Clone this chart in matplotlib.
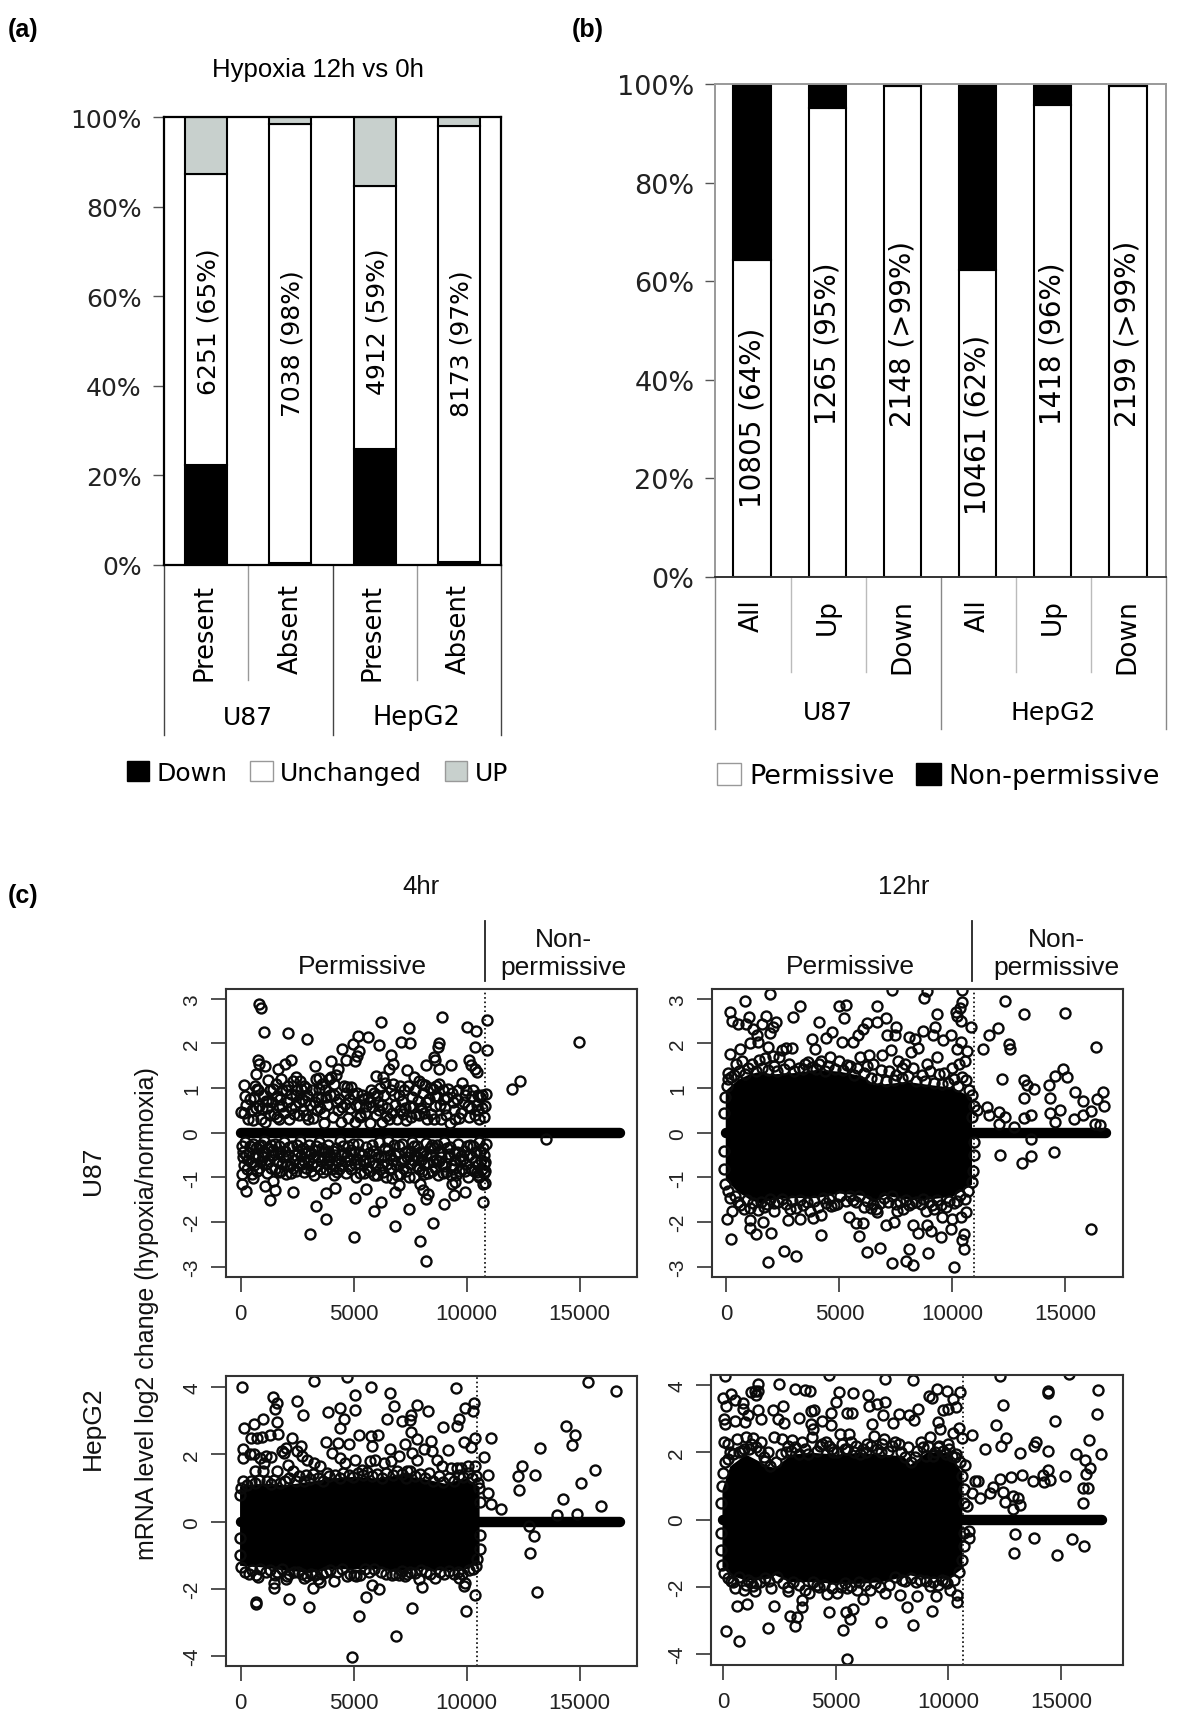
import matplotlib
matplotlib.use("Agg")
import matplotlib.pyplot as plt
from matplotlib.patches import Patch
import numpy as np

# panel a
a_cats = ["Present", "Absent", "Present", "Absent"]
a_down = [22.2, 0.4, 25.8, 0.5]
a_unch = [65.1, 98.0, 58.7, 97.5]
a_up = [12.7, 1.6, 15.5, 2.0]
a_text = ["6251 (65%)", "7038 (98%)", "4912 (59%)", "8173 (97%)"]
a_text_y = [54.5, 49.5, 54.5, 49.5]

# panel b
b_cats = ["All", "Up", "Down", "All", "Up", "Down"]
b_perm = [64.3, 95.1, 99.6, 62.2, 95.8, 99.6]
b_non = [35.7, 4.9, 0.4, 37.8, 4.2, 0.4]
b_text = ["10805 (64%)", "1265 (95%)", "2148 (>99%)", "10461 (62%)", "1418 (96%)", "2199 (>99%)"]
b_text_y = [32.4, 47.5, 49.5, 31, 47.5, 49.5]

# panel c, cut points between permissive / non permissive
cut_u87_4 = 10805
cut_u87_12 = 10950
cut_hep_4 = 10461
cut_hep_12 = 10650

u87_4h = [(830,2.89),(880,2.79),(1030,2.25),(2100,2.23),(2935,2.11),(6220,2.49),(7460,2.34),(7080,2.03),(7510,2.02),(8920,2.6),
(10030,2.36),(10410,2.28),(10900,2.52),(10900,1.86),(10350,1.93),(14975,2.03),(12020,0.99),(12340,1.15),(13515,-0.13),
(5190,2.16),(4975,1.99),(5640,2.14),(6100,1.96),(4480,1.88),(5220,1.84),(5140,1.73),(4640,1.62),(5060,1.6),(3980,1.61),
(2240,1.62),(1940,1.54),(750,1.62),(830,1.54),(1080,1.5),(660,1.32),(1660,1.43),(3280,1.49),(4310,1.43),(6630,1.75),
(6720,1.54),(6550,1.43),(7380,1.4),(5970,1.27),(6300,1.25),(8790,2.0),(8710,1.91),(8540,1.69),(8620,1.62),(8210,1.52),
(8790,1.43),(9290,1.52),(10120,1.62),(10200,1.51),(10370,1.43),(10450,1.36),
(130,1.07),(30,0.46),(150,0.44),(320,0.3),(480,0.5),(590,0.8),(640,1.05),(710,0.97),(830,0.6),(900,0.32),(1000,0.85),
(1080,0.25),(1170,0.55),(1230,1.18),(1310,0.95),(1400,0.7),(1480,0.42),(1550,1.1),(1620,0.82),(1700,0.6),(1710,0.3),
(1790,1.2),(1850,0.95),(1920,0.45),(2030,0.7),(2090,1.05),(2150,0.3),(2240,0.88),(2320,1.15),(2390,0.6),(2450,1.25),
(2510,0.95),(2590,0.4),(2640,1.17),(2720,0.75),(2800,1.05),(2880,0.4),(2950,0.85),(3060,0.62),(3150,0.95),(3220,0.34),
(3340,1.2),(3400,0.8),(3470,1.22),(3530,0.55),(3610,1.1),(3680,0.22),(3750,0.95),(3840,0.62),(3900,1.2),(4010,1.25),
(4070,0.35),(4150,0.85),(4220,1.3),(4290,0.52),(4370,0.75),(4450,0.25),(4550,1.05),(4620,0.65),(4700,1.03),(4770,0.33),
(4840,0.55),(4950,0.88),(5050,0.25),(5150,0.9),(5220,0.6),(5300,0.35),(5420,0.75),(5510,0.45),(5620,0.8),(5710,0.22),
(5800,0.58),(5890,0.9),(5980,0.4),(6080,0.7),(6170,1.0),(6240,0.25),(6320,0.85),(6400,1.12),(6480,0.55),(6570,0.32),
(6650,0.95),(6740,1.1),(6820,0.62),(6900,0.3),(6990,0.85),(7070,0.5),(7150,0.72),(7230,0.95),(7310,0.28),(7420,1.05),
(7500,0.6),(7590,0.8),(7680,1.25),(7760,0.42),(7830,0.72),(7910,1.15),(7990,0.55),(8070,0.9),(8150,1.07),(8240,0.3),
(8320,0.75),(8410,0.42),(8500,0.98),(8590,0.6),(8690,0.82),(8770,1.1),(8870,0.3),(8950,0.95),(9060,0.55),(9130,0.8),
(9260,0.22),(9340,0.9),(9460,0.5),(9550,0.75),(9670,0.33),(9810,1.12),(9870,0.68),(9980,0.95),(10090,0.35),(10240,0.82),
(10370,0.4),(10440,0.62),(10530,0.3),(10610,0.8),(10690,0.85),(10780,0.35),(10850,0.88),
(60,-0.92),(60,-1.15),(220,-1.3),(530,-1.02),(1070,-1.18),(1280,-1.5),(1450,-1.07),(1530,-1.27),(2300,-1.32),(3320,-1.63),
(3760,-1.34),(4180,-1.24),(5050,-1.45),(5550,-1.26),(5890,-1.75),(6210,-1.55),(6830,-1.33),(7000,-1.17),(7450,-1.7),
(7920,-1.15),(8080,-1.27),(8220,-1.48),(8290,-1.36),(8980,-1.6),(9350,-1.15),(9420,-1.4),(9500,-1.1),(9940,-1.32),
(10550,-1.0),(10720,-1.15),(10800,-1.12),(10740,-1.54),(10760,-0.9),
(3080,-2.27),(3760,-1.93),(5000,-2.33),(6820,-2.08),(7950,-2.43),(8210,-2.88),(8530,-2.02),
(40,-0.3),(100,-0.55),(190,-0.2),(270,-0.8),(370,-0.45),(450,-0.65),(540,-0.25),(620,-0.55),(720,-0.85),(800,-0.3),
(880,-0.62),(950,-0.42),(1040,-0.18),(1130,-0.7),(1220,-0.35),(1340,-0.78),(1420,-0.5),(1500,-0.25),(1590,-0.62),(1680,-0.88),
(1750,-0.42),(1830,-0.7),(1930,-0.2),(2000,-0.92),(2080,-0.5),(2170,-0.75),(2270,-0.3),(2350,-0.6),(2440,-0.85),(2520,-0.4),
(2610,-0.18),(2700,-0.7),(2780,-0.88),(2860,-0.45),(2960,-0.6),(3040,-0.27),(3130,-0.85),(3200,-0.55),(3300,-0.38),(3370,-0.75),
(3460,-0.2),(3540,-0.62),(3650,-0.88),(3720,-0.42),(3810,-0.7),(3880,-0.28),(3970,-0.55),(4060,-0.82),(4130,-0.95),(4230,-0.35),
(4310,-0.62),(4400,-0.18),(4490,-0.75),(4570,-0.45),(4660,-0.9),(4730,-0.3),(4830,-0.6),(4900,-0.82),(5010,-0.42),(5090,-0.98),
(5180,-0.25),(5270,-0.7),(5350,-0.5),(5460,-0.9),(5540,-0.32),(5660,-0.62),(5740,-0.85),(5840,-0.4),(5930,-0.72),(6010,-0.95),
(6110,-0.2),(6190,-0.55),(6290,-0.88),(6370,-0.35),(6460,-0.7),(6540,-0.18),(6620,-0.5),(6710,-1.02),(6790,-0.28),(6870,-0.72),
(6960,-0.45),(7040,-0.92),(7130,-0.25),(7210,-0.6),(7300,-0.85),(7390,-0.4),(7480,-0.7),(7560,-0.2),(7650,-0.98),(7730,-0.52),
(7810,-0.3),(7900,-0.82),(7970,-0.6),(8060,-0.42),(8130,-0.92),(8220,-0.22),(8310,-0.68),(8400,-0.5),(8480,-0.85),(8570,-0.33),
(8650,-0.6),(8740,-0.95),(8830,-0.42),(8920,-0.7),(8990,-0.2),(9090,-0.88),(9170,-0.55),(9280,-0.32),(9370,-0.72),(9450,-0.45),
(9540,-0.95),(9630,-0.25),(9720,-0.62),(9800,-0.8),(9900,-0.4),(9990,-0.7),(10060,-0.98),(10150,-0.28),(10230,-0.55),(10320,-0.85),
(10400,-0.42),(10480,-0.72),(10560,-0.2),(10640,-0.6),(10700,-0.35),(10780,-0.5),(10830,-0.85),(10860,-0.25),
# second pass over the crowded bands
(250,0.62),(420,0.75),(560,0.28),(770,0.95),(960,0.55),(1130,0.72),(1290,0.4),(1440,0.98),(1590,0.35),(1760,0.75),(1990,0.95),(2210,0.55),
(2430,0.85),(2560,0.7),(2680,0.98),(2760,0.5),(2900,1.0),(3000,0.3),(3270,0.7),(3460,0.98),(3570,0.78),(3700,0.45),(3950,0.85),(4120,1.1),
(4480,0.58),(4660,0.9),(4880,1.02),(5100,0.62),(5360,0.85),(5560,0.6),(5760,0.95),(6020,0.85),(6260,0.62),(6430,0.38),(6790,0.85),(7040,1.05),
(7270,0.55),(7540,0.35),(7720,0.95),(7890,0.4),(8030,1.1),(8190,0.68),(8360,1.0),(8540,0.3),(8640,1.05),(8840,0.62),(9010,0.75),(9190,0.98),
(9400,0.68),(9610,0.95),(9760,0.45),(9920,0.85),(10180,0.55),(10300,0.95),(10490,0.85),(10660,0.55),(10810,0.6),
(150,-0.72),(320,-0.6),(500,-0.92),(670,-0.35),(830,-0.78),(1000,-0.55),(1180,-0.9),(1360,-0.28),(1540,-0.8),(1710,-0.3),(1880,-0.55),(2050,-0.72),
(2220,-0.9),(2400,-0.5),(2570,-0.68),(2740,-0.35),(2910,-0.78),(3090,-0.45),(3250,-0.95),(3420,-0.55),(3590,-0.35),(3770,-0.8),(3930,-0.62),
(4100,-0.4),(4270,-0.88),(4440,-0.5),(4610,-0.62),(4780,-0.75),(4950,-0.25),(5130,-0.58),(5300,-0.9),(5500,-0.6),(5690,-0.45),(5880,-0.95),
(6060,-0.55),(6240,-0.72),(6420,-0.98),(6590,-0.82),(6750,-0.6),(6920,-0.95),(7090,-0.62),(7260,-0.42),(7430,-0.98),(7610,-0.6),(7780,-0.75),
(7940,-0.42),(8100,-0.7),(8280,-0.9),(8450,-0.28),(8620,-0.78),(8790,-0.62),(8960,-0.9),(9130,-0.35),(9320,-0.95),(9490,-0.6),(9680,-0.85),
(9850,-0.58),(10020,-0.3),(10190,-0.82),(10360,-0.62),(10520,-0.95),(10670,-0.8),(10800,-0.65),
# third pass, mostly the lower band which is nearly solid
(90,-0.42),(230,-0.5),(400,-0.3),(580,-0.72),(760,-0.52),(920,-0.28),(1090,-0.45),(1260,-0.62),(1450,-0.38),(1640,-0.45),(1800,-0.85),(1970,-0.4),
(2130,-0.32),(2310,-0.78),(2480,-0.28),(2650,-0.52),(2820,-0.62),(3000,-0.4),(3170,-0.7),(3340,-0.3),(3500,-0.8),(3680,-0.55),(3850,-0.4),
(4020,-0.7),(4190,-0.5),(4360,-0.8),(4530,-0.3),(4700,-0.52),(4870,-0.38),(5050,-0.7),(5220,-0.42),(5400,-0.62),(5600,-0.78),(5790,-0.28),
(5970,-0.48),(6150,-0.82),(6330,-0.52),(6500,-0.38),(6670,-0.78),(6840,-0.5),(7010,-0.3),(7170,-0.78),(7340,-0.55),(7520,-0.42),(7690,-0.3),
(7860,-0.55),(8020,-0.85),(8190,-0.5),(8360,-0.35),(8530,-0.62),(8700,-0.28),(8870,-0.55),(9040,-0.75),(9220,-0.48),(9410,-0.82),(9590,-0.42),
(9760,-0.52),(9940,-0.85),(10100,-0.5),(10270,-0.3),(10440,-0.88),(10600,-0.42),(10760,-0.7),
(200,0.82),(680,0.55),(1220,0.72),(1830,0.6),(2340,0.42),(2850,0.72),(3380,0.52),(3780,0.8),(4240,0.7),(4780,0.75),(5260,0.4),(5700,0.7),
(6120,0.52),(6700,0.45),(7180,0.42),(7640,0.58),(8120,0.45),(8580,0.82),(9100,0.4),(9500,0.3),(10040,0.6),(10500,0.5)]

u87_12h = [(150,2.7),(250,2.51),(810,2.96),(1910,3.11),(985,2.59),(515,2.44),(880,2.43),(1180,2.33),(1735,2.61),(1590,2.43),
(2200,2.48),(2060,2.37),(1910,2.24),(1350,2.18),(1030,2.01),(1400,2.03),(1840,1.92),(590,1.88),(150,1.77),(2940,2.6),
(3260,2.84),(4120,2.48),(4970,2.84),(5290,2.87),(5220,2.57),(3790,2.1),(3940,1.87),(4410,2.13),(4680,2.25),(5120,2.03),
(5590,2.03),(5810,2.18),(6030,2.33),(6210,2.46),(6680,2.83),(6660,2.49),(7060,2.58),(7500,2.37),(7090,2.18),(7470,2.18),
(7350,3.19),(8750,3.01),(8900,3.17),(9310,2.66),(9240,2.37),(8680,2.29),(9150,2.2),(8090,2.14),(8340,2.1),(9590,2.08),
(9930,2.18),(10370,2.03),(10440,3.19),(10410,2.93),(10340,2.79),(10150,2.7),(10220,2.61),(10370,2.5),(10840,2.37),(10660,1.84),
(10220,1.87),(11370,1.88),(11620,2.2),(12010,2.35),(12310,2.96),(13150,2.66),(14970,2.68),(16370,1.93),(12500,1.99),(12540,1.87),
(12210,1.21),(13190,1.19),(13310,1.06),(13600,0.97),(13160,0.79),(14260,1.08),(14560,1.28),(14880,1.43),(15070,1.24),(14310,0.79),
(15440,0.91),(15760,0.72),(16400,0.75),(16660,0.91),(16700,0.61),(16130,0.48),(15760,0.4),(15370,0.3),(14780,0.52),(14340,0.45),
(13460,0.4),(13160,0.34),(12310,0.35),(12060,0.46),(11540,0.57),(11620,0.4),(11100,0.5),(12060,0.2),(12720,0.13),(14560,0.24),
(16320,0.2),(16540,0.18),(12100,-0.49),(13060,-0.68),(13460,-0.53),(14490,-0.43),(13500,-0.13),(16120,-2.16),
(30,-1.93),(220,-2.37),(1030,-1.96),(1030,-2.14),(1320,-2.26),(1620,-2.0),(1990,-2.24),(2130,-1.74),(1840,-2.9),(2530,-2.64),
(3090,-2.75),(2720,-1.96),(3240,-1.93),(3820,-1.91),(4190,-2.28),(4190,-1.85),(4630,-1.63),(5440,-1.89),(5740,-2.01),(6030,-2.01),
(5850,-2.31),(6210,-2.66),(6790,-2.57),(6660,-1.78),(7060,-2.06),(7430,-2.0),(7310,-2.92),(7570,-1.74),(7940,-2.86),(8240,-2.95),
(8090,-2.6),(8240,-2.07),(8500,-2.24),(8940,-2.69),(8900,-2.07),(9040,-2.19),(9490,-2.34),(9560,-1.89),(9930,-2.15),(10070,-3.0),
(9970,-1.93),(10370,-1.89),(10510,-2.26),(10410,-2.41),(10510,-2.6),(10590,-1.78),(8820,-1.74),
(70,1.35),(420,1.55),(700,1.6),(1150,1.55),(1450,1.62),(1700,1.68),(2050,1.72),(2450,1.85),(2650,1.9),(2900,1.9),(2350,1.7),
(3200,1.45),(3600,1.58),(4200,1.6),(4600,1.7),(5000,1.6),(5450,1.5),(5900,1.7),(6300,1.75),(6500,1.55),(6900,1.75),(7300,1.85),
(7600,1.6),(7750,1.45),(7900,1.55),(8150,1.8),(8500,1.9),(8900,1.55),(9300,1.7),(9650,1.35),(10000,1.45),(10300,1.55),(10550,1.6),
(250,-1.75),(520,-1.55),(760,-1.7),(1200,-1.58),(1650,-1.65),(2300,-1.55),(2800,-1.7),(3400,-1.62),(3700,-1.75),(4400,-1.58),
(4900,-1.6),(5600,-1.5),(6100,-1.65),(6500,-1.6),(7800,-1.7),(8200,-1.58),(8600,-1.6),(9200,-1.7),(9700,-1.65),(10200,-1.52),
# lumps along the edge of the black block
(-100,0.45),(-60,0.8),(20,1.05),(60,1.2),(200,1.25),(340,1.3),(560,1.38),(820,1.32),(960,1.45),(1290,1.38),(1560,1.45),(1860,1.4),(2120,1.5),
(2250,1.38),(2560,1.42),(2780,1.55),(3000,1.38),(3380,1.42),(3460,1.55),(3800,1.48),(3970,1.42),(4120,1.55),(4350,1.38),(4500,1.5),(4800,1.42),
(5180,1.4),(5320,1.52),(5640,1.3),(5790,1.45),(6080,1.35),(6240,1.5),(6420,1.22),(6680,1.2),(6830,1.4),(7080,1.15),(7200,1.38),(7400,1.18),
(7520,1.3),(7780,1.22),(8020,1.28),(8250,1.45),(8400,1.15),(8650,1.3),(8800,1.15),(9000,1.38),(9200,1.12),(9420,1.32),(9560,1.1),(9820,1.12),
(10060,1.2),(10240,1.05),(10420,1.25),(10620,1.18),(10720,0.95),(10860,0.85),(10950,0.6),(10880,0.35),
(-100,-0.4),(-90,-0.8),(-40,-1.15),(80,-1.3),(180,-1.45),(380,-1.42),(620,-1.62),(900,-1.5),(1060,-1.68),(1380,-1.72),(1520,-1.55),(1780,-1.6),
(1950,-1.48),(2100,-1.58),(2450,-1.48),(2620,-1.6),(2920,-1.52),(3100,-1.68),(3280,-1.5),(3560,-1.55),(3880,-1.52),(4060,-1.65),(4280,-1.45),
(4550,-1.48),(4780,-1.62),(5040,-1.42),(5280,-1.52),(5460,-1.42),(5720,-1.55),(5880,-1.42),(6220,-1.52),(6380,-1.68),(6620,-1.7),(6780,-1.58),
(6960,-1.45),(7160,-1.55),(7340,-1.42),(7500,-1.6),(7680,-1.55),(7940,-1.5),(8060,-1.62),(8380,-1.55),(8720,-1.48),(8960,-1.55),(9090,-1.62),
(9320,-1.5),(9480,-1.62),(9840,-1.52),(10060,-1.58),(10360,-1.4),(10560,-1.48),(10700,-1.3),(10860,-1.1),(10930,-0.85),(10950,-0.5),(10940,-0.2)]

hep_4h = [(80,4.0),(3260,4.18),(4720,4.3),(5760,4.02),(6590,3.84),(5080,3.77),(9520,3.99),(15350,4.15),(16620,3.88),(1410,3.7),
(1620,3.53),(1520,3.35),(2500,3.6),(2760,3.19),(990,3.07),(580,2.9),(130,2.8),(1610,2.98),(3870,3.27),(4390,3.37),(5080,3.32),
(4590,3.07),(4390,2.79),(6800,3.45),(7780,3.47),(8310,3.28),(7550,3.19),(7480,3.03),(7120,3.0),(6490,3.05),(8940,2.81),(9640,3.05),
(9550,2.86),(9930,3.37),(10330,3.53),(10260,3.28),(460,2.48),(720,2.5),(960,2.52),(1300,2.58),(1640,2.62),(2270,2.5),(2650,2.26),
(3770,2.36),(4300,2.34),(4800,2.31),(5220,2.58),(5760,2.56),(6090,2.59),(5790,2.24),(7530,2.66),(7780,2.46),(7250,2.31),(6620,2.16),
(8410,2.41),(9190,2.14),(9900,2.36),(10180,2.23),(10380,2.5),(11090,2.5),(10760,1.93),(10350,1.66),(10930,1.39),(10480,1.16),
(10930,0.85),(11090,0.54),(11540,0.38),(13250,2.18),(12450,1.66),(12280,1.36),(13030,1.39),(12330,0.94),(14400,2.86),(14780,2.58),
(14650,2.29),(15680,1.54),(15070,1.16),(14270,0.67),(15940,0.47),(13990,0.2),(14900,0.24),(12960,-0.44),(12810,-0.93),(13110,-2.09),
(12750,-0.13),(660,-2.39),(700,-2.45),(2150,-2.29),(3010,-2.54),(3180,-1.97),(3510,-1.79),(4140,-1.77),(4720,-1.62),(5250,-2.82),
(5550,-2.24),(5830,-1.9),(6130,-2.0),(4930,-4.04),(6890,-3.39),(7580,-2.56),(8030,-1.94),(7910,-1.7),(9930,-1.82),(9900,-1.92),
(10360,-2.19),(9950,-2.67),(1490,-1.82),(1490,-1.97),(1990,-1.72),(745,-1.65),(2810,-1.67),(8610,-1.67),(9650,-1.67),(7280,-1.62),
(10430,-1.32),(120,2.15),(100,1.9),(400,2.0),(600,2.02),(850,1.9),(1100,1.95),(1350,1.92),(1050,1.75),(650,1.5),(1000,1.5),(1600,1.5),
(1850,2.1),(2000,2.2),(1900,2.05),(2100,1.7),(2500,2.1),(2700,1.95),(2950,1.85),(3250,1.75),(3500,1.65),(3800,1.45),(4050,2.05),
(4400,1.9),(4600,1.75),(5050,1.85),(5350,1.55),(5700,1.8),(5950,1.85),(6350,1.75),(6650,1.8),(7000,1.95),(7350,1.5),(7600,2.05),
(7800,1.85),(8100,2.15),(8450,2.1),(8700,1.85),(8900,1.65),(9300,1.6),(9550,1.6),(9750,1.6),(10050,1.65),(2300,1.5),(2900,1.4),
(350,-1.55),(1100,-1.5),(1500,-1.6),(2150,-1.55),(2550,-1.5),(3300,-1.6),(3600,-1.55),(5000,-1.6),(5300,-1.58),(6700,-1.58),(7000,-1.6),
(7500,-1.5),(8200,-1.5),(9000,-1.55),(9600,-1.5),(10100,-1.45),
# lumps along the edge of the black block
(-30,0.8),(20,1.0),(100,1.2),(280,1.1),(460,1.22),(620,1.15),(790,1.25),(1180,1.2),(1320,1.12),(1490,1.25),(1730,1.15),(1950,1.2),(2120,1.3),
(2450,1.22),(2600,1.35),(2790,1.2),(3050,1.28),(3200,1.42),(3420,1.3),(3650,1.22),(3900,1.35),(4180,1.4),(4380,1.3),(4530,1.45),(4780,1.38),
(4950,1.32),(5180,1.45),(5420,1.38),(5600,1.48),(5820,1.35),(6050,1.42),(6260,1.3),(6440,1.45),(6720,1.38),(6900,1.5),(7120,1.42),(7300,1.3),
(7480,1.5),(7700,1.35),(7920,1.42),(8150,1.3),(8330,1.45),(8520,1.22),(8780,1.35),(8970,1.18),(9200,1.3),(9420,1.2),(9640,1.4),(9850,1.32),
(10040,1.45),(10220,1.3),(10400,1.35),(10530,1.0),(10600,0.6),
(-40,-0.5),(-20,-1.0),(30,-1.35),(180,-1.5),(520,-1.45),(680,-1.6),(860,-1.42),(1280,-1.45),(1620,-1.5),(1850,-1.42),(2050,-1.62),(2350,-1.5),
(2700,-1.55),(2950,-1.62),(3120,-1.55),(3420,-1.7),(3760,-1.5),(3950,-1.45),(4250,-1.5),(4480,-1.42),(4820,-1.55),(5120,-1.62),(5480,-1.42),
(5680,-1.5),(5900,-1.42),(6200,-1.5),(6450,-1.55),(6850,-1.55),(7150,-1.48),(7380,-1.55),(7700,-1.52),(7980,-1.45),(8380,-1.55),(8800,-1.5),
(9200,-1.48),(9420,-1.55),(9780,-1.55),(10280,-1.42),(10450,-1.1),(10580,-0.8),(10610,-0.4)]

hep_12h = [(100,4.26),(4700,4.3),(7190,4.18),(8410,4.15),(12280,4.28),(15340,4.33),(16620,3.86),(14410,3.83),(14440,3.76),(1570,4.05),
(2470,4.03),(1400,3.83),(1540,3.84),(1250,3.8),(1470,3.72),(3210,3.88),(3650,3.86),(3850,3.82),(5150,3.81),(5760,3.76),(6430,3.71),
(6840,3.43),(7190,3.51),(6470,3.38),(5030,3.51),(340,3.73),(0,3.63),(510,3.56),(880,3.48),(120,3.38),(880,3.28),(1540,3.26),(2210,3.26),
(2680,3.38),(1100,3.11),(1690,2.99),(40,3.0),(540,2.93),(985,2.9),(70,2.84),(2430,3.0),(2720,2.86),(3350,3.01),(3900,3.23),(4040,3.25),
(4380,2.94),(4780,3.18),(4780,2.81),(5510,3.16),(5740,3.16),(3900,2.84),(4000,2.69),(7100,3.11),(7790,3.15),(8240,3.11),(8650,3.3),
(8460,2.97),(7540,2.87),(6620,2.84),(9160,3.68),(9290,3.63),(9490,3.88),(9930,3.83),(10510,3.8),(10220,3.6),(10320,3.36),(10000,3.28),
(9780,3.25),(9530,2.9),(9630,2.69),(10220,2.57),(10490,2.72),(10590,2.44),(11070,2.52),(11620,2.09),(12100,2.82),(12430,3.4),(12570,2.44),
(12350,2.19),(13160,1.99),(13820,2.19),(13900,2.32),(14410,2.04),(14740,2.94),(16590,3.13),(16250,2.36),(16760,1.94),(15660,1.96),
(16060,1.76),(16290,1.54),(16100,1.36),(15180,1.29),(14410,1.49),(14190,1.34),(14260,1.11),(14490,1.17),(13750,1.14),(13260,1.32),
(12790,1.26),(12280,1.21),(11180,1.16),(11320,1.16),(11990,0.97),(11840,0.8),(12430,0.82),(11030,0.78),(11400,0.65),(12500,0.52),
(12870,0.7),(13090,0.63),(13160,0.43),(12870,0.32),(10810,0.4),(10740,1.61),(15960,0.93),(16210,0.93),(15960,0.5),
(10910,-0.35),(10910,-0.55),(12940,-0.42),(13790,-0.55),(12910,-1.0),(14810,-1.07),(15490,-0.57),(16030,-0.78),
(120,-3.33),(690,-3.63),(630,-2.57),(1070,-2.52),(1990,-3.23),(2280,-2.57),(2130,-2.04),(2990,-2.86),(3280,-2.89),(3180,-3.16),(3500,-2.39),
(3500,-2.59),(4710,-2.76),(5470,-2.76),(5780,-2.67),(5620,-2.96),(5340,-3.28),(5490,-4.16),(6210,-2.36),(7030,-3.05),(8410,-3.13),(8160,-2.61),
(7870,-2.26),(8600,-2.27),(9260,-2.72),(9440,-2.29),(10370,-2.44),(10400,-2.26),(370,-1.84),(510,-2.04),(930,-2.09),(1400,-2.14),(1250,-1.85),
(1100,-1.8),(1480,-1.9),(2870,-2.14),(3820,-2.19),(4260,-2.01),(4630,-2.22),(5070,-2.19),(5510,-2.04),(5960,-2.09),(6540,-2.09),(7180,-2.19),
(8090,-1.82),(8570,-1.86),(9190,-1.99),(9850,-1.84),(10070,-2.09),(9700,-1.8),
(60,2.3),(220,2.25),(600,2.4),(1000,2.45),(1350,2.42),(1700,2.3),(2000,2.0),(2250,2.45),(2600,2.4),(3050,2.38),(3500,2.3),(3950,2.45),
(4400,2.25),(4700,2.2),(5200,2.55),(5600,2.55),(5800,2.0),(6400,2.25),(6700,2.5),(7150,2.4),(7500,2.2),(7800,2.25),(8200,2.15),(8800,2.3),
(9200,2.45),(9600,2.2),(10050,2.1),(300,2.0),(850,2.05),(1150,2.1),(1800,1.85),(3000,2.05),(4900,2.0),(5400,2.1),(6200,2.1),(7000,2.0),
(8500,1.85),(9000,1.9),(9400,2.0),(9900,1.95),(10300,1.85),
# lumps along the edge of the black block
(-80,0.5),(-60,1.0),(-20,1.4),(80,1.7),(230,1.8),(460,1.95),(710,2.0),(930,2.1),(1220,2.25),(1460,2.15),(1640,2.05),(1880,1.75),(2080,1.6),
(2340,1.7),(2560,1.95),(2780,2.0),(2900,2.2),(3180,2.15),(3380,1.95),(3620,2.1),(3780,1.95),(4180,2.05),(4300,2.2),(4560,2.3),(4820,2.1),
(5060,2.0),(5280,2.25),(5520,2.1),(5680,2.3),(5920,2.2),(6080,1.95),(6340,2.0),(6560,2.2),(6840,2.1),(7050,2.25),(7340,2.05),(7620,2.3),
(7880,2.0),(8060,1.85),(8320,1.7),(8620,2.05),(8880,2.15),(9100,2.2),(9300,1.9),(9520,2.15),(9760,2.05),(9980,2.25),(10150,1.9),(10350,1.95),
(10530,1.7),(10620,1.3),(10680,0.9),(10700,0.5),
(-90,-0.4),(-90,-0.9),(-60,-1.35),(60,-1.6),(220,-1.75),(460,-1.85),(700,-1.7),(1000,-1.95),(1320,-1.98),(1620,-1.85),(1860,-1.75),(2060,-1.82),
(2400,-1.7),(2660,-1.9),(2880,-2.0),(3120,-1.85),(3360,-1.95),(3650,-2.1),(3980,-1.85),(4180,-1.95),(4480,-1.95),(4850,-2.05),(5230,-2.02),
(5400,-1.9),(5700,-1.98),(6050,-1.85),(6320,-1.95),(6730,-1.9),(6950,-2.0),(7350,-1.95),(7640,-1.7),(7950,-1.8),(8330,-1.75),(8720,-1.8),
(9000,-1.82),(9320,-1.85),(9560,-1.95),(9950,-1.9),(10230,-1.8),(10480,-1.55),(10620,-1.2),(10680,-0.8),(10700,-0.4)]

# outline of the solid black part of the crowded panels, read at these x
u87_12_env_x = [-50, 500, 1000, 1500, 2000, 3000, 4000, 5000, 6000, 6500, 7000, 8000, 9000, 10000, 10850]
u87_12_top = [0.95, 1.2, 1.32, 1.38, 1.32, 1.35, 1.42, 1.38, 1.28, 1.1, 1.1, 1.15, 1.08, 1.02, 0.8]
u87_12_bot = [-1.05, -1.32, -1.48, -1.58, -1.48, -1.45, -1.45, -1.35, -1.4, -1.55, -1.4, -1.48, -1.48, -1.42, -1.15]
hep_4_env_x = [-50, 1000, 2000, 3000, 4000, 5000, 6000, 7000, 8000, 9000, 10000, 10550]
hep_4_top = [1.05, 1.15, 1.1, 1.2, 1.3, 1.35, 1.3, 1.4, 1.3, 1.15, 1.3, 1.05]
hep_4_bot = [-1.3, -1.35, -1.45, -1.5, -1.4, -1.4, -1.4, -1.45, -1.4, -1.45, -1.4, -1.2]
hep_12_env_x = [-50, 300, 1000, 2000, 2300, 3000, 4000, 5000, 6000, 7000, 8000, 8300, 9000, 10000, 10600]
hep_12_top = [0.9, 1.6, 1.95, 1.6, 1.55, 1.95, 2.0, 1.95, 2.0, 1.95, 1.9, 1.65, 2.0, 2.0, 1.4]
hep_12_bot = [-1.4, -1.65, -1.8, -1.75, -1.65, -1.85, -1.85, -1.9, -1.9, -1.85, -1.7, -1.65, -1.75, -1.75, -1.45]

SX = 1200 / 1097.0
W, H = 1200.0, 1715.0

def box(l, r, t, b):
    return [l * SX / W, 1 - b * SX / H, (r - l) * SX / W, (b - t) * SX / H]

def ftext(x, y, s, **kw):
    fig.text(x * SX / W, 1 - y * SX / H, s, ha=kw.pop("ha", "center"), va=kw.pop("va", "center"), **kw)

fig = plt.figure(figsize=(12, 17.15), dpi=100)
plt.rcParams["font.family"] = "DejaVu Sans"

# ---- a
ax = fig.add_axes(box(150, 458, 108, 517))
pos = np.arange(4) + 0.5
bkw = dict(width=0.5, edgecolor="black", linewidth=1.5)
ax.bar(pos, a_down, color="black", **bkw)
ax.bar(pos, a_unch, bottom=a_down, color="white", **bkw)
ax.bar(pos, a_up, bottom=np.array(a_down) + np.array(a_unch), color="#c8d0cd", **bkw)
ax.set_xlim(0, 4)
ax.set_ylim(0, 100)
ax.set_xticks([])
ax.set_yticks(range(0, 101, 20))
ax.set_yticklabels(["%d%%" % v for v in range(0, 101, 20)], fontsize=18)
ax.tick_params(axis="y", length=8, width=1, pad=8, color="#555555", labelcolor="#222222")
for s in ax.spines.values():
    s.set_linewidth(1.6)
for i in range(4):
    ax.text(pos[i] + 0.03, a_text_y[i], a_text[i], rotation=90, ha="center", va="center", fontsize=18)
    ax.text(pos[i] - 0.02 if i % 2 == 0 else pos[i], -4.2, a_cats[i], rotation=90, ha="center", va="top", fontsize=18.5)
for i in [0, 2, 4]:
    ax.plot([i, i], [0, -38], color="#444444", lw=1, clip_on=False)
for i in [1, 3]:
    ax.plot([i, i], [0, -25.7], color="#999999", lw=1, clip_on=False)
ax.text(1, -34, "U87", ha="center", va="center", fontsize=18)
ax.text(3, -34, "HepG2", ha="center", va="center", fontsize=18.5)
ax.legend(handles=[Patch(facecolor="black", edgecolor="black", label="Down"),
                   Patch(facecolor="white", edgecolor="#999999", label="Unchanged"),
                   Patch(facecolor="#c8d0cd", edgecolor="#999999", label="UP")],
          ncol=3, frameon=False, loc="center", bbox_to_anchor=(0.455, -0.465), fontsize=18,
          handlelength=0.9, handleheight=0.9, columnspacing=0.9, handletextpad=0.3)

# ---- b
ax = fig.add_axes(box(654, 1066, 78, 528))
pos = np.arange(6) + 0.5
bkw = dict(width=0.5, edgecolor="black", linewidth=1.5)
ax.bar(pos - 0.01, b_perm, color="white", **bkw)
ax.bar(pos - 0.01, b_non, bottom=b_perm, color="black", **bkw)
ax.set_xlim(0, 6)
ax.set_ylim(0, 100)
ax.set_xticks([])
ax.set_yticks(range(0, 101, 20))
ax.set_yticklabels(["%d%%" % v for v in range(0, 101, 20)], fontsize=19.5)
ax.tick_params(axis="y", length=7, width=1, pad=8, color="#555555", labelcolor="#222222")
for k, s in ax.spines.items():
    s.set_color("#999999" if k != "bottom" else "#333333")
    s.set_linewidth(1.4)
for i in range(6):
    ax.text(pos[i] - 0.01, b_text_y[i], b_text[i], rotation=90, ha="center", va="center", fontsize=20)
    ax.text(pos[i] - 0.01, -4.4, b_cats[i], rotation=90, ha="center", va="top", fontsize=19)
for i in [0, 3, 6]:
    ax.plot([i, i], [0, -31], color="#888888", lw=1, clip_on=False)
for i in [1, 2, 4, 5]:
    ax.plot([i, i], [0, -19.3], color="#bbbbbb", lw=1, clip_on=False)
ax.text(1.5, -27.5, "U87", ha="center", va="center", fontsize=18)
ax.text(4.5, -27.5, "HepG2", ha="center", va="center", fontsize=18)
ax.legend(handles=[Patch(facecolor="white", edgecolor="#999999", label="Permissive"),
                   Patch(facecolor="black", edgecolor="black", label="Non-permissive")],
          ncol=2, frameon=False, loc="center", bbox_to_anchor=(0.495, -0.405), fontsize=19.5,
          handlelength=0.9, handleheight=0.9, columnspacing=0.8, handletextpad=0.3)

ftext(7, 27, "(a)", ha="left", fontsize=18, fontweight="bold", family="Liberation Sans")
ftext(523, 27, "(b)", ha="left", fontsize=18, fontweight="bold", family="Liberation Sans")
ftext(7, 819, "(c)", ha="left", fontsize=18, fontweight="bold", family="Liberation Sans")
ftext(291, 64, "Hypoxia 12h vs 0h", fontsize=18.5, family="Liberation Sans")

# ---- c
def scatter_panel(rect, pts, cut, xlim, ylim, yticks, zero_end, env=None):
    ax = fig.add_axes(box(*rect))
    if env is not None:
        ax.fill_between(env[0], env[1], env[2], color="black", lw=0)
    ax.plot([0, zero_end], [0, 0], color="black", lw=7.5, solid_capstyle="round")
    pts = np.array(pts)
    ax.plot(pts[:, 0], pts[:, 1], "o", mfc="none", mec="#0a0a0a", ms=7.2, mew=1.7)
    ax.axvline(cut, color="black", ls=":", lw=1.2)
    ax.set_xlim(*xlim)
    ax.set_ylim(*ylim)
    ax.set_xticks([0, 5000, 10000, 15000])
    ax.set_yticks(yticks)
    ax.set_xticklabels(["0", "5000", "10000", "15000"], family="Liberation Sans", fontsize=16)
    ax.set_yticklabels([str(v) for v in yticks], family="Liberation Sans", fontsize=15, rotation=90, va="center")
    ax.tick_params(axis="x", length=11, width=1.2, pad=8, color="#333333", labelcolor="#222222")
    ax.tick_params(axis="y", length=11, width=1.2, pad=7, color="#333333", labelcolor="#222222")
    for s in ax.spines.values():
        s.set_linewidth(1.5)
        s.set_color("#333333")
    return ax

scatter_panel((207, 582, 905, 1168), u87_4h, cut_u87_4, (-630, 17520), (-3.22, 3.22), [-3, -2, -1, 0, 1, 2, 3], 16800)
scatter_panel((651, 1027, 905, 1168), u87_12h, cut_u87_12, (-630, 17570), (-3.22, 3.22), [-3, -2, -1, 0, 1, 2, 3], 16800,
              (u87_12_env_x, u87_12_top, u87_12_bot))
scatter_panel((207, 582, 1259, 1524), hep_4h, cut_hep_4, (-630, 17520), (-4.3, 4.33), [-4, -2, 0, 2, 4], 16800,
              (hep_4_env_x, hep_4_top, hep_4_bot))
scatter_panel((650, 1027, 1258, 1523), hep_12h, cut_hep_12, (-534, 17770), (-4.33, 4.3), [-4, -2, 0, 2, 4], 16800,
              (hep_12_env_x, hep_12_top, hep_12_bot))

lib = dict(family="Liberation Sans", color="#111111")
ftext(385, 811, "4hr", fontsize=18.5, **lib)
ftext(826, 811, "12hr", fontsize=18.5, **lib)
ftext(331, 884, "Permissive", fontsize=19, **lib)
ftext(777, 884, "Permissive", fontsize=19, **lib)
ftext(515, 872, "Non-\npermissive", fontsize=19, linespacing=1.2, **lib)
ftext(966, 872, "Non-\npermissive", fontsize=19, linespacing=1.2, **lib)
ftext(85, 1070, "U87", fontsize=19, rotation=90, **lib)
ftext(85, 1306, "HepG2", fontsize=19, rotation=90, **lib)
ftext(134, 1201, "mRNA level log2 change (hypoxia/normoxia)", fontsize=18, rotation=90, **lib)
for xp in [443, 889]:
    fig.add_artist(plt.Line2D([xp * SX / W, xp * SX / W], [1 - 843 * SX / H, 1 - 898 * SX / H], color="#222222", lw=1.3))

fig.savefig("out.png", dpi=100)
